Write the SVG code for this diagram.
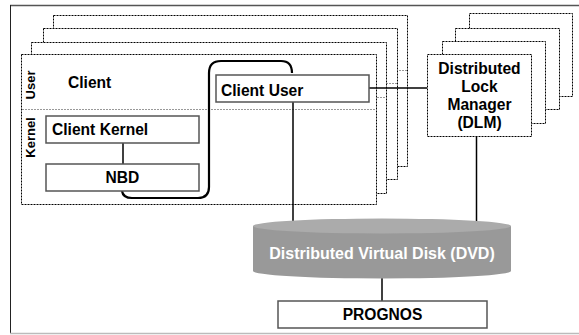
<svg xmlns="http://www.w3.org/2000/svg" width="579" height="335" viewBox="0 0 579 335">
<style>
text{font-family:"Liberation Sans",Arial,sans-serif;font-weight:bold;fill:#000}
.f{fill:#fff;stroke:#000;stroke-width:1;stroke-dasharray:2 1}
.dv{stroke:#999;stroke-width:1;stroke-dasharray:2 1;fill:none}
.box{fill:#fff;stroke:#555;stroke-width:1.5}
.ln{stroke:#000;stroke-width:1.5;fill:none}
.t{font-size:15.6px}
.lab{font-size:13px}
</style>
<rect width="579" height="335" fill="#fff"/>
<g id="frame">
<line x1="10" y1="5.5" x2="579" y2="5.5" stroke="#555" stroke-width="1.5"/>
<line x1="10.5" y1="5" x2="10.5" y2="333" stroke="#222" stroke-width="1"/>
<line x1="10" y1="333.5" x2="579" y2="333.5" stroke="#bbb" stroke-width="1.5"/>
</g>
<g id="dlm-stack">
<rect class="f" x="469.5" y="13.5" width="103" height="83"/>
<rect class="f" x="455.5" y="28.5" width="104" height="81"/>
<rect class="f" x="442.5" y="41.5" width="103" height="82"/>
</g>
<g id="client-stack">
<rect class="f" x="53.5" y="15.5" width="354" height="151"/>
<line class="dv" x1="54" y1="70.5" x2="407" y2="70.5"/>
<rect class="f" x="43.5" y="28.5" width="354" height="151"/>
<line class="dv" x1="44" y1="83.5" x2="397" y2="83.5"/>
<rect class="f" x="31.5" y="42.5" width="355" height="151"/>
<line class="dv" x1="32" y1="97.5" x2="386" y2="97.5"/>
</g>
<g id="client">
<rect class="f" x="21.5" y="54.5" width="355" height="150"/>
<line class="dv" x1="22" y1="109.5" x2="376" y2="109.5"/>
<text class="lab" transform="translate(35,85) rotate(-90)" text-anchor="middle">User</text>
<text class="lab" transform="translate(35,137.5) rotate(-90)" text-anchor="middle">Kernel</text>
<text class="t" x="68" y="88">Client</text>
</g>
<g id="connectors">
<path d="M122,191 Q123,198 132,198 L198,198 Q209,198 209,187 L209,73 Q209,61 221,61 L281,61 Q292,61 292,73" stroke="#000" stroke-width="2.2" fill="none"/>
<line class="ln" x1="123" y1="143" x2="123" y2="164"/>
<line class="ln" x1="369" y1="88" x2="427" y2="88"/>
<line class="ln" x1="293" y1="102" x2="293" y2="225"/>
<line class="ln" x1="476.5" y1="136" x2="476.5" y2="225"/>
<line class="ln" x1="382" y1="278" x2="382" y2="301"/>
</g>
<g id="client-kernel">
<rect class="box" x="46" y="116" width="153" height="27"/>
<text class="t" x="52" y="135">Client Kernel</text>
</g>
<g id="nbd">
<rect class="box" x="46" y="164" width="153" height="27"/>
<text class="t" x="122.5" y="183" text-anchor="middle">NBD</text>
</g>
<g id="client-user">
<rect class="box" x="216" y="75" width="153" height="27"/>
<text class="t" x="221" y="96">Client User</text>
</g>
<g id="dlm">
<rect class="f" x="427.5" y="54.5" width="104" height="82"/>
<text class="t" text-anchor="middle" x="479.5" y="73.5">Distributed</text>
<text class="t" text-anchor="middle" x="479.5" y="91.5">Lock</text>
<text class="t" text-anchor="middle" x="479.5" y="109.5">Manager</text>
<text class="t" text-anchor="middle" x="479.5" y="127.5">(DLM)</text>
</g>
<g id="dvd">
<path d="M253,226 L253,271 A129,7.5 0 0 0 511,271 L511,226 Z" fill="#999"/>
<ellipse cx="382" cy="226" rx="129" ry="7.5" fill="#ababab"/>
<text x="382" y="259" text-anchor="middle" font-size="16" style="fill:#fff">Distributed Virtual Disk (DVD)</text>
</g>
<g id="prognos">
<rect class="box" x="278" y="301" width="209" height="27"/>
<text class="t" x="382.5" y="320" text-anchor="middle">PROGNOS</text>
</g>
</svg>
